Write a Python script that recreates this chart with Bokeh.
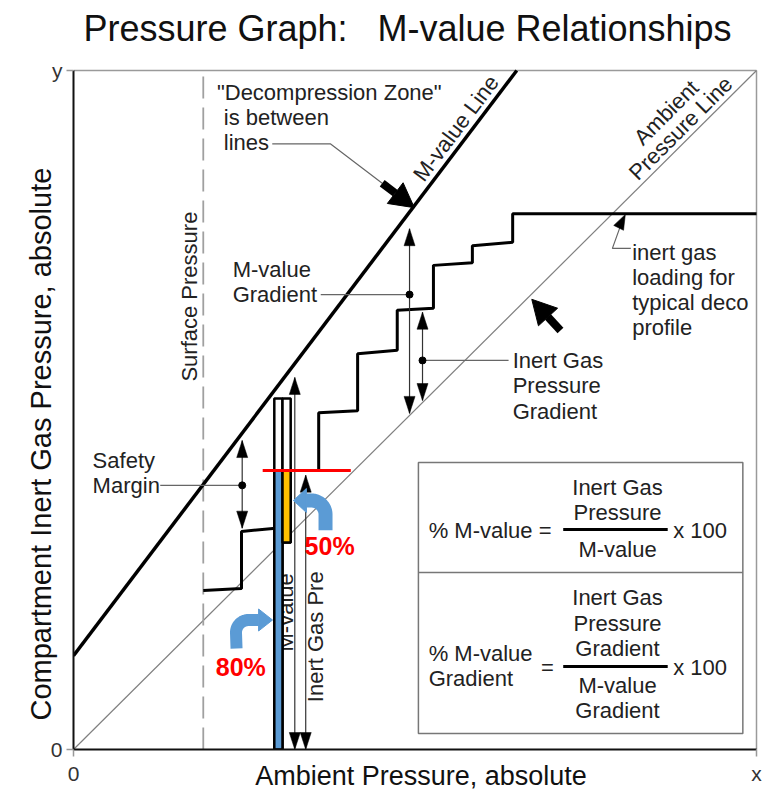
import numpy as np
from bokeh.plotting import figure
from bokeh.models import Range1d, FixedTicker, Title
from bokeh.core.properties import value
from bokeh.embed import file_html
from bokeh.resources import INLINE

# ---------------- data (schematic units, 0..10 on both axes) ----------------
x_ticks = [0, 10]
x_tick_labels = ["0", "x"]
y_tick_labels = ["0", "y"]

surface_pressure = 1.90
ambient_line_x = [0.0, 10.0]
ambient_line_y = [0.0, 10.0]
mvalue_line_x = [0.0, 6.49]
mvalue_line_y = [1.38, 10.0]

profile_a_x = [1.90, 2.46, 2.46, 2.96]
profile_a_y = [2.34, 2.37, 3.21, 3.26]
profile_b_x = [3.59, 3.59, 4.16, 4.16, 4.74, 4.74, 5.27, 5.27, 5.84, 5.84, 6.43, 6.43, 10.0]
profile_b_y = [4.09, 4.96, 4.99, 5.83, 5.88, 6.47, 6.50, 7.13, 7.17, 7.42, 7.47, 7.89, 7.89]

bar_edges = [2.94, 3.06, 3.18]
bar_mvalue = 5.17     # M-value at the bar
bar_inert = 4.11      # inert gas pressure (80 % of M-value)
bar_ambient = 3.05    # ambient pressure (50 % of M-value gradient)
red_line_x = [2.77, 4.06]

# double arrows: x, bottom tip, top tip
dbl_x = [2.47, 4.92, 5.11, 3.24, 3.40]
dbl_y0 = [3.26, 4.95, 5.14, 0.0, 0.0]
dbl_y1 = [4.55, 7.67, 6.44, 5.48, 4.04]
dot_x = [2.47, 4.92, 5.11]
dot_y = [3.89, 6.70, 5.73]

# leader lines
leaders_x = [[1.27, 2.47], [3.62, 4.92], [5.11, 6.37],
             [2.91, 3.76, 4.52], [8.16, 7.89, 8.04]]
leaders_y = [[3.89, 3.89], [6.70, 6.70], [5.73, 5.73],
             [8.92, 8.92, 8.34], [7.38, 7.38, 7.80]]
small_head = (8.08, 7.88, 8.04, 7.80)   # tip x, tip y, from x, from y

# big black arrows: tail x, tail y, tip x, tip y
big_arrows = [(4.52, 8.34, 4.99, 7.98), (7.13, 6.17, 6.71, 6.63)]

# formula box
box_x = [5.05, 9.80]
box_y = [0.236, 4.227]
box_div = 2.607
frac_x = [7.17, 8.70]
frac_y = [3.24, 1.222]

# texts
title_parts = ["Pressure Graph:", "M-value Relationships"]
title_x = [0.146, 4.45]
title_y = [10.62, 10.62]
x_title = "Ambient Pressure, absolute"
y_title = "Compartment Inert Gas Pressure, absolute"
left_texts = ['"Decompression Zone"', 'is between', 'lines', 'M-value', 'Gradient',
              'Safety', 'Margin', 'Inert Gas', 'Pressure', 'Gradient',
              'inert gas', 'loading for', 'typical deco', 'profile',
              '% M-value =', 'x 100', '% M-value', 'Gradient', 'x 100']
left_x = [2.10, 2.20, 2.20, 2.33, 2.33, 0.28, 0.28, 6.43, 6.43, 6.43,
          8.18, 8.18, 8.18, 8.18, 5.20, 8.78, 5.20, 5.20, 8.78]
left_y = [9.68, 9.31, 8.94, 7.07, 6.70, 4.26, 3.89, 5.73, 5.36, 4.98,
          7.32, 6.95, 6.58, 6.22, 3.225, 3.225, 1.414, 1.046, 1.208]
center_texts = ['=', 'Inert Gas', 'Pressure', 'M-value', 'Inert Gas', 'Pressure',
                'Gradient', 'M-value', 'Gradient']
center_x = [6.94, 7.965, 7.965, 7.965, 7.965, 7.965, 7.965, 7.965, 7.965]
center_y = [1.21, 3.859, 3.49, 2.945, 2.239, 1.856, 1.487, 0.943, 0.574]
rot_texts = ['M-value Line', 'Ambient', 'Pressure Line', 'Surface Pressure']
rot_x = [5.60, 8.68, 8.89, 1.70]
rot_y = [9.15, 9.38, 9.15, 6.67]
rot_angle = [53, 45, 45, 90]
bar_texts = ['M-value', 'Inert Gas Pre']
bar_text_x = [3.11, 3.54]
bar_text_y = [2.02, 1.66]
pct_texts = ['50%', '80%']
pct_x = [3.75, 2.45]
pct_y = [3.00, 1.22]

# ---------------- figure ----------------
FONT = "Liberation Sans"
TXT = "#222222"
PXX = 10 / 683.0
PXY = 10 / 679.0

p = figure(width=778, height=798,
           x_range=Range1d(0, 695 / 68.3), y_range=Range1d(0, 749 / 67.9),
           output_backend="svg", toolbar_location=None, title=None,
           min_border_left=73, min_border_right=10, min_border_top=0, min_border_bottom=49)
p.grid.visible = False
p.outline_line_color = None
p.background_fill_color = "white"
p.border_fill_color = "white"

for ax, labels in ((p.xaxis, x_tick_labels), (p.yaxis, y_tick_labels)):
    ax.ticker = FixedTicker(ticks=x_ticks)
    ax.bounds = (x_ticks[0], x_ticks[-1])
    ax.major_label_overrides = {t: l for t, l in zip(x_ticks, labels)}
    ax.axis_line_color = "#111111"
    ax.axis_line_width = 2
    ax.major_tick_line_color = "#999999"
    ax.major_tick_line_width = 1.5
    ax.major_tick_out = 7
    ax.major_tick_in = 0
    ax.minor_tick_line_color = None
    ax.major_label_text_font = FONT
    ax.major_label_text_font_size = "21px"
    ax.major_label_text_color = "#333333"
p.xaxis.major_label_standoff = 5
p.yaxis.major_label_standoff = 4
p.xaxis.axis_label = x_title
p.xaxis.axis_label_standoff = -27
p.xaxis.axis_label_text_font = FONT
p.xaxis.axis_label_text_font_size = "27px"
p.xaxis.axis_label_text_font_style = "normal"
p.xaxis.axis_label_text_color = "#111111"

p.add_layout(Title(text=y_title, align="left", offset=29, standoff=-18,
                   text_font=FONT, text_font_size="29px", text_font_style="normal",
                   text_color="#111111"), "left")

# plot box (top and right edges)
p.line([0, 10], [10, 10], line_color="#9a9a9a", line_width=1.5)
p.line([10, 10], [0, 10], line_color="#9a9a9a", line_width=1.5)

# base lines
p.line(ambient_line_x, ambient_line_y, line_color="#808080", line_width=1.2)
p.line([surface_pressure, surface_pressure], [0, 10], line_color="#a0a0a0",
       line_width=1.8, line_dash="22 9")
p.line(mvalue_line_x, mvalue_line_y, line_color="black", line_width=3.5)
p.line(profile_a_x, profile_a_y, line_color="black", line_width=3)
p.line(profile_b_x, profile_b_y, line_color="black", line_width=3)


def head(tx, ty, fx, fy, length, half):
    dx = (tx - fx) / PXX
    dy = (ty - fy) / PXY
    n = np.hypot(dx, dy)
    ux, uy = dx / n, dy / n
    bx, by = -ux * length, -uy * length
    nx, ny = -uy * half, ux * half
    return ([tx, tx + (bx + nx) * PXX, tx + (bx - nx) * PXX],
            [ty, ty + (by + ny) * PXY, ty + (by - ny) * PXY])


# leader lines
p.multi_line(leaders_x, leaders_y, line_color="#666666", line_width=1.2)

# double arrows
hx, hy = [], []
for x, y0, y1 in zip(dbl_x, dbl_y0, dbl_y1):
    p.line([x, x], [y0, y1], line_color="#333333", line_width=1.2)
    a = head(x, y1, x, y0, 17, 5.5)
    b = head(x, y0, x, y1, 17, 5.5)
    hx += [a[0], b[0]]
    hy += [a[1], b[1]]
a = head(*small_head, 15, 5.5)
hx.append(a[0]); hy.append(a[1])
p.patches(hx, hy, fill_color="black", line_color="black", line_width=0.5)
p.scatter(dot_x, dot_y, size=7, color="black")

# big arrows
for tx0, ty0, tx1, ty1 in big_arrows:
    hxs, hys = head(tx1, ty1, tx0, ty0, 24, 13)
    bxm = (hxs[1] + hxs[2]) / 2
    bym = (hys[1] + hys[2]) / 2
    p.line([tx0, bxm], [ty0, bym], line_color="black", line_width=8)
    p.patch(hxs, hys, fill_color="black", line_color="black")

# texts near the bar (partly hidden by the bar)
p.text(bar_text_x, bar_text_y, text=bar_texts, angle=90, angle_units="deg",
       text_font=value(FONT), text_font_size="22px", text_color=TXT,
       text_align="center", text_baseline="middle")

# bar
l, m, r = bar_edges
p.quad(left=[l, m], right=[m, r], bottom=[0, bar_ambient], top=[bar_mvalue, bar_mvalue],
       fill_color="white", line_color="black", line_width=2.5)
p.quad(left=[l, m], right=[m, r], bottom=[0, bar_ambient], top=[bar_inert, bar_inert],
       fill_color=["#5B9BD5", "#FFC000"], line_color="black", line_width=2.5)
p.line(red_line_x, [bar_inert, bar_inert], line_color="#FF0000", line_width=3)


# blue curved arrows (stem, quarter arc, head)
def curved(stem_x, stem_y0, cx, cy, rad, a0, a1, end_x, tip_x, half):
    t = np.radians(np.linspace(a0, a1, 20))
    xs = [stem_x] + list(cx + rad * PXX * np.cos(t)) + [end_x]
    ys = [stem_y0] + list(cy + rad * PXY * np.sin(t)) + [cy + rad * PXY]
    yh = cy + rad * PXY
    return xs, ys, [tip_x, end_x, end_x], [yh, yh + half * PXY, yh - half * PXY]


c1 = curved(3.69, 3.23, 3.485, 3.461, 14, 0, 90, 3.41, 3.22, 12)
c2 = curved(2.387, 1.487, 2.562, 1.723, 12.5, 180, 90, 2.71, 2.914, 11)
for xs, ys, hxs, hys, w in ((*c1, 14), (*c2, 12)):
    p.line(xs, ys, line_color="#5B9BD5", line_width=w, line_join="round")
    p.patch(hxs, hys, fill_color="#5B9BD5", line_color="#5B9BD5")

p.text(pct_x, pct_y, text=pct_texts, text_font=value(FONT), text_font_size="25px",
       text_font_style="bold", text_color="#FF0000", text_align="center",
       text_baseline="middle")

# annotation texts
p.text(left_x, left_y, text=left_texts, text_font=value(FONT), text_font_size="22px",
       text_color=TXT, text_align="left", text_baseline="middle")
p.text(rot_x, rot_y, text=rot_texts, angle=rot_angle, angle_units="deg",
       text_font=value(FONT), text_font_size="22px", text_color=TXT,
       text_align="center", text_baseline="middle")

# formula box
p.quad(left=[box_x[0]], right=[box_x[1]], bottom=[box_y[0]], top=[box_y[1]],
       fill_color=None, line_color="#777777", line_width=1.5)
p.line(box_x, [box_div, box_div], line_color="#777777", line_width=1.5)
for fy in frac_y:
    p.line(frac_x, [fy, fy], line_color="black", line_width=3)
p.text(center_x, center_y, text=center_texts, text_font=value(FONT),
       text_font_size="22px", text_color=TXT, text_align="center",
       text_baseline="middle")

# chart title (inside the frame area above the plot box)
p.text(title_x, title_y, text=title_parts, text_font=value(FONT), text_font_size="36px",
       text_color="#111111", text_align="left", text_baseline="alphabetic")

open("out.html", "w").write(file_html(p, INLINE))
